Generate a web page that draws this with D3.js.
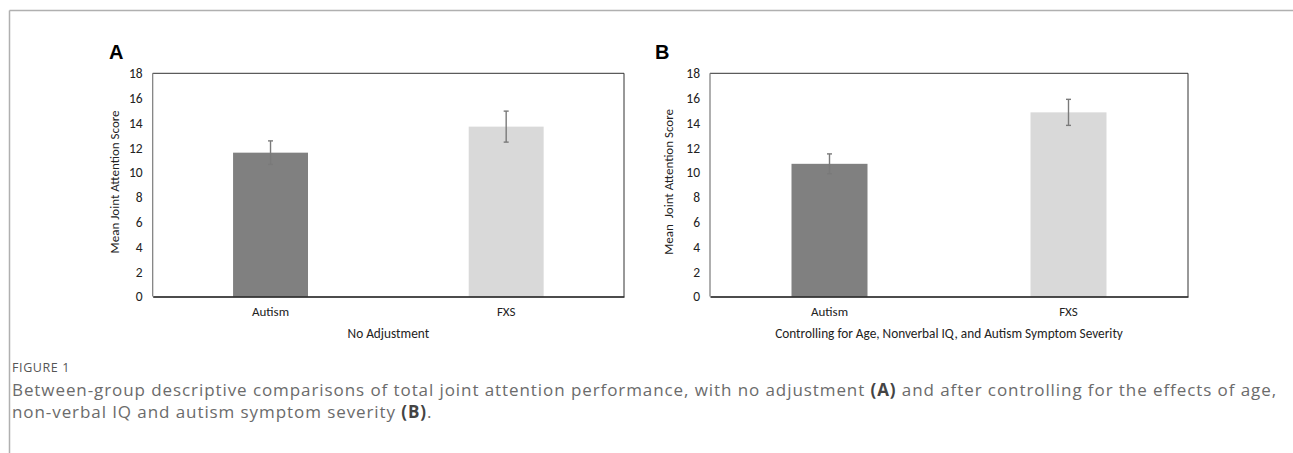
<!DOCTYPE html>
<html>
<head>
<meta charset="utf-8">
<script src="https://cdn.jsdelivr.net/npm/d3@7"></script>
<style>
  body { margin: 0; background: #fff; }
  svg { display: block; }
</style>
</head>
<body>
<div id="chart"></div>
<script>
const categories = ['Autism', 'FXS'];
const meansA = [11.6, 13.7];
const errorsA = [0.95, 1.25];
const meansB = [10.7, 14.85];
const errorsB = [0.8, 1.05];
const yTicks = [0, 2, 4, 6, 8, 10, 12, 14, 16, 18];
const barColors = ['#808080', '#d9d9d9'];

const width = 1293, height = 453;
const chartFont = "Carlito, Calibri, 'Liberation Sans', Arial, sans-serif";

const svg = d3.select('#chart').append('svg')
  .attr('width', width)
  .attr('height', height);

// page frame
svg.append('line').attr('x1', 9.5).attr('x2', width).attr('y1', 10.5).attr('y2', 10.5)
  .attr('stroke', '#b0b0b0').attr('stroke-width', 1.5);
svg.append('line').attr('x1', 9.5).attr('x2', 9.5).attr('y1', 10.5).attr('y2', height)
  .attr('stroke', '#b0b0b0').attr('stroke-width', 1.5);

function drawPanel(opts) {
  const { letter, left, right, means, errors, yLabel, xTitle, letterX } = opts;
  const top = 73.3, bottom = 296.5;
  const g = svg.append('g');

  const x = d3.scaleBand().domain(categories).range([left, right]);
  const y = d3.scaleLinear().domain([0, 18]).range([bottom, top]);
  const barW = x.bandwidth() * 0.318;

  // panel letter
  g.append('text')
    .attr('x', letterX).attr('y', 59)
    .attr('font-family', "'Liberation Sans', Arial, sans-serif")
    .attr('font-weight', 'bold').attr('font-size', 20)
    .text(letter);

  // bars
  g.selectAll('.bar')
    .data(categories)
    .enter()
    .append('rect')
    .attr('class', 'bar')
    .attr('x', d => x(d) + x.bandwidth() / 2 - barW / 2)
    .attr('y', (d, i) => y(means[i]))
    .attr('width', barW)
    .attr('height', (d, i) => y(0) - y(means[i]))
    .attr('fill', (d, i) => barColors[i]);

  // error bars
  const eb = g.selectAll('.err')
    .data(categories)
    .enter()
    .append('g')
    .attr('class', 'err')
    .attr('stroke', '#7a7a7a')
    .attr('stroke-width', 1.4);
  eb.append('line')
    .attr('x1', d => x(d) + x.bandwidth() / 2)
    .attr('x2', d => x(d) + x.bandwidth() / 2)
    .attr('y1', (d, i) => y(means[i] + errors[i]))
    .attr('y2', (d, i) => y(means[i] - errors[i]));
  [1, -1].forEach(s => {
    eb.append('line')
      .attr('x1', d => x(d) + x.bandwidth() / 2 - 2.5)
      .attr('x2', d => x(d) + x.bandwidth() / 2 + 2.5)
      .attr('y1', (d, i) => y(means[i] + s * errors[i]))
      .attr('y2', (d, i) => y(means[i] + s * errors[i]));
  });

  // plot border
  g.append('line').attr('x1', left).attr('x2', right).attr('y1', top).attr('y2', top)
    .attr('stroke', '#333').attr('stroke-width', 1);
  g.append('line').attr('x1', right).attr('x2', right).attr('y1', top).attr('y2', bottom)
    .attr('stroke', '#333').attr('stroke-width', 1);
  g.append('line').attr('x1', left).attr('x2', left).attr('y1', top).attr('y2', bottom)
    .attr('stroke', '#7a7a7a').attr('stroke-width', 1.2);

  // y axis labels
  const yAxis = g.append('g')
    .attr('transform', `translate(${left},0)`)
    .call(d3.axisLeft(y).tickValues(yTicks).tickSize(0).tickPadding(10));
  yAxis.select('.domain').remove();
  yAxis.selectAll('text')
    .attr('font-family', chartFont).attr('font-size', 13.5).attr('fill', '#222');

  // x axis
  const xAxis = g.append('g')
    .attr('transform', `translate(0,${bottom})`)
    .call(d3.axisBottom(x).tickSize(0).tickPadding(10));
  xAxis.select('.domain').attr('stroke', '#111').attr('stroke-width', 1.6);
  xAxis.selectAll('text')
    .attr('font-family', chartFont).attr('font-size', 13).attr('fill', '#222');

  // axis titles
  g.append('text')
    .attr('transform', `translate(${opts.yLabelX},${(top + bottom) / 2 - 3}) rotate(-90)`)
    .attr('text-anchor', 'middle')
    .attr('font-family', chartFont).attr('font-size', 13).attr('fill', '#222')
    .attr('xml:space', 'preserve')
    .text(yLabel);

  g.append('text')
    .attr('x', (left + right) / 2).attr('y', 338)
    .attr('text-anchor', 'middle')
    .attr('font-family', chartFont).attr('font-size', 13.3).attr('fill', '#222')
    .text(xTitle);
}

drawPanel({
  letter: 'A', letterX: 109, left: 152.7, right: 624,
  means: meansA, errors: errorsA,
  yLabel: 'Mean Joint Attention Score', yLabelX: 119,
  xTitle: 'No Adjustment'
});

drawPanel({
  letter: 'B', letterX: 655, left: 710, right: 1188,
  means: meansB, errors: errorsB,
  yLabel: 'Mean  Joint Attention Score', yLabelX: 673,
  xTitle: 'Controlling for Age, Nonverbal IQ, and Autism Symptom Severity'
});

// figure caption
const capFont = "'Open Sans', 'Noto Sans', sans-serif";
svg.append('text')
  .attr('x', 12).attr('y', 372)
  .attr('font-family', capFont).attr('font-size', 12.5)
  .attr('fill', '#555').attr('letter-spacing', 0.6)
  .text('FIGURE 1');

const cap1 = svg.append('text')
  .attr('x', 12).attr('y', 396)
  .attr('font-family', capFont).attr('font-size', 17)
  .attr('fill', '#6b6b6b');
cap1.append('tspan').text('Between-group descriptive comparisons of total joint attention performance, with no adjustment ');
cap1.append('tspan').attr('font-weight', 'bold').attr('fill', '#444').text('(A)');
cap1.append('tspan').text(' and after controlling for the effects of age,');

const cap2 = svg.append('text')
  .attr('x', 12).attr('y', 418)
  .attr('font-family', capFont).attr('font-size', 17)
  .attr('fill', '#6b6b6b');
cap2.append('tspan').text('non-verbal IQ and autism symptom severity ');
cap2.append('tspan').attr('font-weight', 'bold').attr('fill', '#444').text('(B)');
cap2.append('tspan').text('.');

// fit the first caption line to the reference line width
const capNode = cap1.node();
const nChars = capNode.getNumberOfChars();
const spacing = (1265 - capNode.getComputedTextLength()) / nChars;
cap1.attr('letter-spacing', spacing);
cap2.attr('letter-spacing', spacing);
</script>
</body>
</html>
